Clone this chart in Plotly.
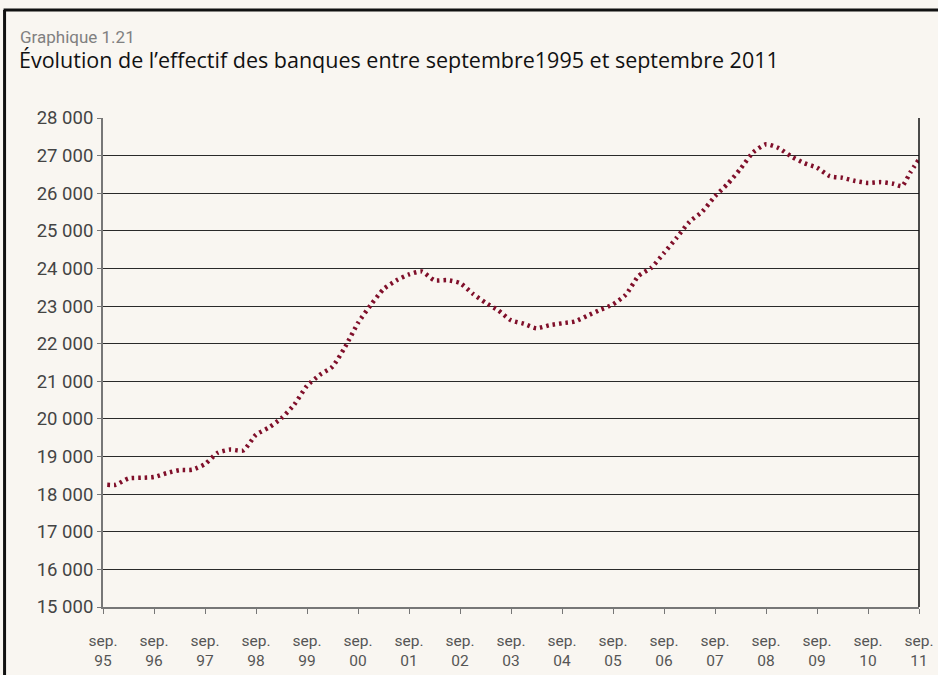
import plotly.graph_objects as go

months = [1, 3, 6, 9, 12, 15, 18, 21, 24, 27, 30, 33, 36, 39, 42, 45, 48, 51, 54, 57, 60,
          63, 66, 69, 72, 75, 78, 81, 84, 87, 90, 93, 96, 99, 102, 105, 108, 111, 114, 117,
          120, 123, 126, 129, 132, 135, 138, 141, 144, 147, 150, 153, 156, 159, 162, 165,
          168, 171, 174, 177, 180, 183, 186, 188, 190, 192]
effectif = [18250, 18250, 18420, 18435, 18455, 18560, 18640, 18650, 18800, 19100, 19185,
            19160, 19580, 19770, 20020, 20380, 20880, 21170, 21390, 21920, 22550, 23030,
            23450, 23680, 23840, 23920, 23685, 23690, 23613, 23330, 23090, 22888, 22622,
            22530, 22410, 22490, 22542, 22590, 22745, 22900, 23045, 23300, 23800, 24020,
            24410, 24820, 25240, 25510, 25920, 26250, 26650, 27090, 27300, 27200, 26975,
            26800, 26680, 26455, 26410, 26325, 26275, 26295, 26250, 26190, 26560, 26900]

tick_months = list(range(0, 193, 12))
tick_labels = ["sep.<br>%02d" % (y % 100) for y in range(1995, 2012)]
y_ticks = list(range(15000, 28001, 1000))
y_tick_labels = [f"{v//1000} 000" for v in y_ticks]

BG = "#f9f6f1"
RED = "#800f2a"

fig = go.Figure()
fig.add_trace(go.Scatter(
    x=months, y=effectif, mode="lines",
    line=dict(color=RED, width=4.5, dash="2.5px,4px", shape="spline", smoothing=0.6),
    hoverinfo="x+y", showlegend=False))

W, H = 938, 675
L, R, T, B = 102.5, 19, 118, 68
pw, ph = W - L - R, H - T - B

def px(x):
    return (x - L) / pw

def py(y):
    return (H - B - y) / ph

fig.update_layout(
    width=W, height=H,
    margin=dict(l=L, r=R, t=T, b=B, autoexpand=False),
    paper_bgcolor=BG, plot_bgcolor=BG,
    font=dict(family="Roboto, sans-serif", color="#333333"),
    xaxis=dict(range=[0, 192], tickvals=tick_months, ticktext=tick_labels,
               showgrid=False, zeroline=False, automargin=False,
               showline=True, linecolor="#777777", linewidth=2,
               ticks="outside", ticklen=5, tickcolor="#777777", tickwidth=1,
               ticklabelstandoff=13,
               tickfont=dict(size=15.5, color="#555555"), tickangle=0),
    yaxis=dict(range=[15000, 28000], tickvals=y_ticks, ticktext=y_tick_labels,
               showgrid=True, gridcolor="#2a2a2a", gridwidth=1, zeroline=False,
               automargin=False,
               showline=True, linecolor="#777777", linewidth=2,
               ticks="outside", ticklen=4, tickcolor="#777777", tickwidth=1,
               ticklabelstandoff=0,
               tickfont=dict(size=18.5, color="#444444")),
    shapes=[
        # right border of the plot area
        dict(type="line", xref="paper", yref="paper", x0=1, x1=1, y0=0, y1=1,
             line=dict(color="#111111", width=1.5)),
        # outer frame: top and left
        dict(type="line", xref="paper", yref="paper", x0=px(3), x1=px(W + 5), y0=py(10), y1=py(10),
             line=dict(color="#111111", width=3)),
        dict(type="line", xref="paper", yref="paper", x0=px(4), x1=px(4), y0=py(10), y1=py(H + 5),
             line=dict(color="#111111", width=3)),
    ],
    annotations=[
        dict(text="Graphique 1.21", xref="paper", yref="paper", x=px(17), y=py(37),
             xanchor="left", yanchor="middle", showarrow=False,
             font=dict(size=17, color="#808080")),
        dict(text="Évolution de l\u2019effectif des banques entre septembre1995 et septembre 2011",
             xref="paper", yref="paper", x=px(16), y=py(60),
             xanchor="left", yanchor="middle", showarrow=False,
             font=dict(size=21.5, color="#111111", family="Open Sans, sans-serif")),
    ],
)

fig.write_html("out.html", config={"displayModeBar": False},
               post_script="document.body.style.margin='0';document.body.style.overflow='hidden';")
